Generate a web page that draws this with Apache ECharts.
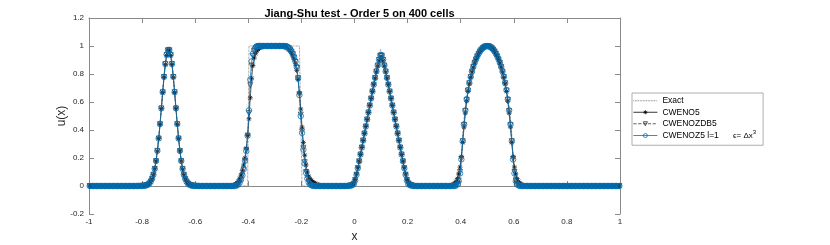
<!DOCTYPE html>
<html><head><meta charset="utf-8">
<script src="https://cdn.jsdelivr.net/npm/echarts@6/dist/echarts.min.js"></script>
<style>html,body{margin:0;padding:0;background:#fff}#c{width:830px;height:245px}</style>
</head><body><div id="c"></div>
<script>
// 400 cells on [-1, 1]; each row below = 20 cells (0.1 in x)
const xRange = [-1, 1];
const yRange = [-0.2, 1.2];
const tickStep = 0.2;
const seriesNames = ['Exact', 'CWENO5', 'CWENOZDB5', 'CWENOZ5 l=1'];

const exactU = [
0,0,0,0,0, 0,0,0,0,0, 0,0,0,0,0, 0,0,0,0,0,
0,0,0,0,0, 0,0,0,0,0, 0,0,0,0,0, 0,0,0,0,0,
0.0007,0.0014,0.0029,0.0056,0.0103,0.0183,0.0311,0.051,0.0804,0.1222,0.1787,0.2516,0.3411,0.4451,0.5591,0.6762,0.7872,0.8823,0.952,0.9889,
0.9889,0.952,0.8823,0.7872,0.6762,0.5591,0.4451,0.3411,0.2516,0.1787,0.1222,0.0804,0.051,0.0311,0.0183,0.0103,0.0056,0.0029,0.0014,0.0007,
0,0,0,0,0, 0,0,0,0,0, 0,0,0,0,0, 0,0,0,0,0,
0,0,0,0,0, 0,0,0,0,0, 0,0,0,0,0, 0,0,0,0,0,
1,1,1,1,1, 1,1,1,1,1, 1,1,1,1,1, 1,1,1,1,1,
1,1,1,1,1, 1,1,1,1,1, 1,1,1,1,1, 1,1,1,1,1,
0,0,0,0,0, 0,0,0,0,0, 0,0,0,0,0, 0,0,0,0,0,
0,0,0,0,0, 0,0,0,0,0, 0,0,0,0,0, 0,0,0,0,0,
0.025,0.075,0.125,0.175,0.225,0.275,0.325,0.375,0.425,0.475,0.525,0.575,0.625,0.675,0.725,0.775,0.825,0.875,0.925,0.975,
0.975,0.925,0.875,0.825,0.775,0.725,0.675,0.625,0.575,0.525,0.475,0.425,0.375,0.325,0.275,0.225,0.175,0.125,0.075,0.025,
0,0,0,0,0, 0,0,0,0,0, 0,0,0,0,0, 0,0,0,0,0,
0,0,0,0,0, 0,0,0,0,0, 0,0,0,0,0, 0,0,0,0,0,
0.2115,0.371,0.4803,0.5628,0.6303,0.6875,0.7368,0.7797,0.8174,0.8504,0.8794,0.9046,0.9265,0.9452,0.961,0.9739,0.9841,0.9917,0.9968,0.9993,
0.9993,0.9968,0.9917,0.9841,0.9739,0.961,0.9452,0.9265,0.9046,0.8794,0.8504,0.8174,0.7797,0.7368,0.6875,0.6303,0.5628,0.4803,0.371,0.2115,
0,0,0,0,0, 0,0,0,0,0, 0,0,0,0,0, 0,0,0,0,0,
0,0,0,0,0, 0,0,0,0,0, 0,0,0,0,0, 0,0,0,0,0,
0,0,0,0,0, 0,0,0,0,0, 0,0,0,0,0, 0,0,0,0,0,
0,0,0,0,0, 0,0,0,0,0, 0,0,0,0,0, 0,0,0,0,0
];

const cweno5U = [
0,0,0,0,0, 0,0,0,0,0, 0,0,0,0,0, 0,0,0,0,0,
0,0,0,0,0, 0,0,0,0,0, 0,0,0,0,0, 0,0,0.0002,0.0004,0.0006,
0.001,0.0018,0.0032,0.006,0.0107,0.0187,0.0315,0.0513,0.0806,0.1221,0.178,0.25,0.3382,0.4405,0.5525,0.6672,0.7755,0.867,0.932,0.965,
0.965,0.932,0.867,0.7755,0.6672,0.5525,0.4405,0.3382,0.25,0.178,0.1221,0.0806,0.0513,0.0315,0.0187,0.0107,0.006,0.0032,0.0018,0.001,
0.0006,0.0004,0.0002,0,0, 0,0,0,0,0, 0,0,0,0,0, 0,0,0,0,0,
0,0,0,0,0, 0,0,0,0.003,0.007, 0.013,0.022,0.035,0.055,0.078, 0.108,0.15,0.2,0.27,0.36,
0.48,0.63,0.77,0.86,0.915,0.945,0.965,0.977,0.985,0.99,0.994,0.996,0.998,0.999,1,1,1,1,1,1,
1,1,1,1,0.999,0.998,0.996,0.993,0.988,0.982,0.973,0.962,0.947,0.928,0.904,0.872,0.826,0.76,0.665,0.55,
0.42,0.31,0.22,0.15,0.1,0.07,0.052,0.04,0.031,0.024,0.018,0.013,0.009,0.006,0.004,0.002,0.001,0,0,0,
0,0,0,0,0, 0,0,0,0,0, 0,0,0,0,0.001, 0.002,0.004,0.007,0.012,0.022,
0.048,0.086,0.13,0.177,0.225,0.275,0.325,0.375,0.425,0.475,0.525,0.575,0.625,0.675,0.723,0.77,0.815,0.856,0.893,0.92,
0.92,0.893,0.856,0.815,0.77,0.723,0.675,0.625,0.575,0.525,0.475,0.425,0.375,0.325,0.275,0.225,0.177,0.13,0.086,0.048,
0.028,0.018,0.012,0.008,0.005, 0.003,0.002,0.001,0,0, 0,0,0,0,0, 0,0,0,0,0,
0,0,0,0,0, 0,0,0,0,0, 0.001,0.002,0.004,0.007,0.012, 0.02,0.033,0.053,0.085,0.135,
0.21,0.31,0.42,0.52,0.605,0.675,0.73,0.776,0.815,0.849,0.878,0.903,0.925,0.944,0.96,0.973,0.983,0.99,0.995,0.998,
0.998,0.995,0.99,0.983,0.973,0.96,0.944,0.925,0.903,0.878,0.849,0.815,0.776,0.73,0.675,0.605,0.52,0.42,0.31,0.21,
0.135,0.085,0.053,0.033,0.02, 0.012,0.007,0.004,0.002,0.001, 0,0,0,0,0, 0,0,0,0,0,
0,0,0,0,0, 0,0,0,0,0, 0,0,0,0,0, 0,0,0,0,0,
0,0,0,0,0, 0,0,0,0,0, 0,0,0,0,0, 0,0,0,0,0,
0,0,0,0,0, 0,0,0,0,0, 0,0,0,0,0, 0,0,0,0,0
];

const cwenozdb5U = [
0,0,0,0,0, 0,0,0,0,0, 0,0,0,0,0, 0,0,0,0,0,
0,0,0,0,0, 0,0,0,0,0, 0,0,0,0,0, 0,0,0.0002,0.0003,0.0005,
0.0009,0.0016,0.003,0.0057,0.0104,0.0184,0.0312,0.0511,0.0805,0.1222,0.1783,0.2506,0.3391,0.4418,0.5542,0.6695,0.7785,0.8705,0.936,0.969,
0.969,0.936,0.8705,0.7785,0.6695,0.5542,0.4418,0.3391,0.2506,0.1783,0.1222,0.0805,0.0511,0.0312,0.0184,0.0104,0.0057,0.003,0.0016,0.0009,
0.0005,0.0003,0.0002,0,0, 0,0,0,0,0, 0,0,0,0,0, 0,0,0,0,0,
0,0,0,0,0, 0,0,0,0,0.001, 0.003,0.007,0.014,0.026,0.045, 0.075,0.118,0.18,0.255,0.36,
0.52,0.72,0.86,0.93,0.965,0.983,0.993,0.998,1,1,1,1,1,1,1,1,1,1,1,1,
1,1,1,1,1,1,0.999,0.998,0.995,0.99,0.984,0.974,0.96,0.942,0.918,0.887,0.845,0.77,0.655,0.51,
0.39,0.27,0.17,0.1,0.057, 0.03,0.015,0.007,0.003,0.001, 0,0,0,0,0, 0,0,0,0,0,
0,0,0,0,0, 0,0,0,0,0, 0,0,0,0,0, 0.001,0.002,0.004,0.008,0.016,
0.042,0.081,0.128,0.176,0.225,0.275,0.325,0.375,0.425,0.475,0.525,0.575,0.625,0.675,0.724,0.772,0.818,0.86,0.9,0.93,
0.93,0.9,0.86,0.818,0.772,0.724,0.675,0.625,0.575,0.525,0.475,0.425,0.375,0.325,0.275,0.225,0.176,0.128,0.081,0.042,
0.018,0.009,0.005,0.002,0.001, 0,0,0,0,0, 0,0,0,0,0, 0,0,0,0,0,
0,0,0,0,0, 0,0,0,0,0, 0,0,0,0,0.001, 0.002,0.006,0.016,0.04,0.1,
0.195,0.32,0.435,0.535,0.615,0.682,0.734,0.778,0.817,0.85,0.879,0.904,0.926,0.945,0.961,0.974,0.984,0.991,0.996,0.999,
0.999,0.996,0.991,0.984,0.974,0.961,0.945,0.926,0.904,0.879,0.85,0.817,0.778,0.734,0.682,0.615,0.535,0.435,0.32,0.195,
0.1,0.04,0.016,0.006,0.002, 0.001,0,0,0,0, 0,0,0,0,0, 0,0,0,0,0,
0,0,0,0,0, 0,0,0,0,0, 0,0,0,0,0, 0,0,0,0,0,
0,0,0,0,0, 0,0,0,0,0, 0,0,0,0,0, 0,0,0,0,0,
0,0,0,0,0, 0,0,0,0,0, 0,0,0,0,0, 0,0,0,0,0
];

const cwenoz5U = [
0,0,0,0,0, 0,0,0,0,0, 0,0,0,0,0, 0,0,0,0,0,
0,0,0,0,0, 0,0,0,0,0, 0,0,0,0,0, 0,0,0.0002,0.0003,0.0005,
0.0009,0.0016,0.003,0.0057,0.0104,0.0184,0.0312,0.0511,0.0805,0.1222,0.1784,0.2508,0.3395,0.4425,0.5552,0.6708,0.7802,0.8725,0.9385,0.972,
0.972,0.9385,0.8725,0.7802,0.6708,0.5552,0.4425,0.3395,0.2508,0.1784,0.1222,0.0805,0.0511,0.0312,0.0184,0.0104,0.0057,0.003,0.0016,0.0009,
0.0005,0.0003,0.0002,0,0, 0,0,0,0,0, 0,0,0,0,0, 0,0,0,0,0,
0,0,0,0,0, 0,0,0,0,0, 0.002,0.005,0.012,0.025,0.045, 0.075,0.12,0.18,0.25,0.36,
0.54,0.76,0.89,0.945,0.975,0.99,0.997,1,1,1,1,1,1,1,1,1,1,1,1,1,
1,1,1,1,1,1,1,0.999,0.997,0.993,0.987,0.977,0.963,0.945,0.92,0.89,0.85,0.77,0.65,0.5,
0.38,0.26,0.16,0.095,0.052, 0.026,0.012,0.005,0.002,0.001, 0,0,0,0,0, 0,0,0,0,0,
0,0,0,0,0, 0,0,0,0,0, 0,0,0,0,0, 0.001,0.002,0.004,0.007,0.015,
0.04,0.08,0.127,0.176,0.225,0.275,0.325,0.375,0.425,0.475,0.525,0.575,0.625,0.675,0.724,0.772,0.819,0.862,0.903,0.935,
0.935,0.903,0.862,0.819,0.772,0.724,0.675,0.625,0.575,0.525,0.475,0.425,0.375,0.325,0.275,0.225,0.176,0.127,0.08,0.04,
0.015,0.007,0.004,0.002,0.001, 0,0,0,0,0, 0,0,0,0,0, 0,0,0,0,0,
0,0,0,0,0, 0,0,0,0,0, 0,0,0,0,0, 0.001,0.004,0.012,0.035,0.09,
0.19,0.32,0.44,0.54,0.62,0.685,0.735,0.779,0.8174,0.8504,0.8794,0.9046,0.9265,0.9452,0.961,0.9739,0.9841,0.9917,0.9968,0.9993,
0.9993,0.9968,0.9917,0.9841,0.9739,0.961,0.9452,0.9265,0.9046,0.8794,0.8504,0.8174,0.779,0.735,0.685,0.62,0.54,0.44,0.32,0.19,
0.09,0.035,0.012,0.004,0.001, 0,0,0,0,0, 0,0,0,0,0, 0,0,0,0,0,
0,0,0,0,0, 0,0,0,0,0, 0,0,0,0,0, 0,0,0,0,0,
0,0,0,0,0, 0,0,0,0,0, 0,0,0,0,0, 0,0,0,0,0,
0,0,0,0,0, 0,0,0,0,0, 0,0,0,0,0, 0,0,0,0,0
];

const FONT = '"Liberation Sans", Arial, Helvetica, sans-serif';
const AX = '#8a8a8a';
const TXT = '#262626';
const starPath = 'path://M5,0L5,10M0,5L10,5M1.5,1.5L8.5,8.5M1.5,8.5L8.5,1.5';
const HOLLOW = 'rgba(0,0,0,0)';

const chart = echarts.init(document.getElementById('c'), null, {renderer: 'canvas'});

function valueAxisX(position, showLabels, extra) {
  return Object.assign({
    type: 'value', position: position, min: xRange[0], max: xRange[1], interval: tickStep,
    axisLine: {show: true, lineStyle: {color: AX, width: 1}},
    axisTick: {show: true, inside: true, length: 5, lineStyle: {color: AX, width: 1}},
    axisLabel: {show: showLabels, color: TXT, fontSize: 8, fontFamily: FONT, margin: 4},
    splitLine: {show: false}
  }, extra || {});
}
function valueAxisY(position, showLabels, extra) {
  return Object.assign({
    type: 'value', position: position, min: yRange[0], max: yRange[1], interval: tickStep,
    axisLine: {show: true, onZero: false, lineStyle: {color: AX, width: 1}},
    axisTick: {show: true, inside: true, length: 5, lineStyle: {color: AX, width: 1}},
    axisLabel: {show: showLabels, color: TXT, fontSize: 8, fontFamily: FONT, margin: 5},
    splitLine: {show: false}
  }, extra || {});
}

const common = {type: 'line', xAxisIndex: 0, yAxisIndex: 0, showAllSymbol: true, animation: false,
  silent: true, emphasis: {disabled: true}};

chart.setOption({
  animation: false,
  backgroundColor: '#fff',
  title: {
    text: 'Jiang-Shu test - Order 5 on 400 cells', left: 354.5, top: 3, textAlign: 'center',
    textStyle: {fontSize: 11, fontWeight: 'bold', color: '#000', fontFamily: FONT}
  },
  grid: {left: 89, right: 210, top: 18, bottom: 31, containLabel: false, outerBoundsMode: 'none'},
  xAxis: [
    {type: 'category', boundaryGap: true, show: false, position: 'bottom'},
    valueAxisX('bottom', true, {name: 'x', nameLocation: 'middle', nameGap: 17, nameMoveOverlap: false,
      nameTextStyle: {fontSize: 12, color: TXT, fontFamily: FONT}}),
    valueAxisX('top', false)
  ],
  yAxis: [
    valueAxisY('left', true, {name: 'u(x)', nameLocation: 'middle', nameGap: 21, nameMoveOverlap: false,
      nameTextStyle: {fontSize: 12, color: TXT, fontFamily: FONT}}),
    valueAxisY('right', false)
  ],
  legend: {
    show: true, orient: 'vertical', left: 632, top: 93,
    data: [
      {name: seriesNames[0], itemStyle: {opacity: 0}},
      {name: seriesNames[1], itemStyle: {color: HOLLOW, borderColor: '#000', borderWidth: 0.8}},
      {name: seriesNames[2], itemStyle: {color: HOLLOW, borderColor: '#2a2a2a', borderWidth: 0.8}},
      {name: seriesNames[3], itemStyle: {color: HOLLOW, borderColor: '#0072BD', borderWidth: 0.8}}
    ],
    backgroundColor: '#fff', borderColor: '#9a9a9a', borderWidth: 0.8, borderRadius: 0,
    padding: [2, 7, 4, 1], itemGap: 0, itemWidth: 24, itemHeight: 5,
    selectedMode: false,
    lineStyle: {width: 0.8},
    textStyle: {fontSize: 8.5, color: '#000', fontFamily: FONT, lineHeight: 11.5,
      rich: {
        n: {fontSize: 8.5, fontFamily: FONT, color: '#000', lineHeight: 11.5},
        e: {fontSize: 8, fontFamily: FONT, color: '#000', lineHeight: 11.5},
        s: {fontSize: 6, fontFamily: FONT, color: '#000', padding: [0, 0, 6, 0]}
      }},
    formatter: function (name) {
      if (name === 'CWENOZ5 l=1') return '{n|CWENOZ5 l=1}      {e|ϵ= Δx}{s|3}';
      return name;
    }
  },
  series: [
    Object.assign({}, common, {
      name: seriesNames[0], data: exactU, symbol: 'none', z: 2,
      lineStyle: {type: 'dotted', width: 0.7, color: '#555'},
      itemStyle: {color: '#555'}
    }),
    Object.assign({}, common, {
      name: seriesNames[1], data: cweno5U, symbol: starPath, symbolSize: 5, z: 3,
      lineStyle: {type: 'solid', width: 0.6, color: '#000'},
      itemStyle: {color: HOLLOW, borderColor: '#000', borderWidth: 0.7}
    }),
    Object.assign({}, common, {
      name: seriesNames[2], data: cwenozdb5U, symbol: 'triangle', symbolRotate: 180, symbolSize: 5, z: 4,
      lineStyle: {type: 'dashed', width: 0.6, color: '#3a3a3a'},
      itemStyle: {color: HOLLOW, borderColor: '#2a2a2a', borderWidth: 0.7}
    }),
    Object.assign({}, common, {
      name: seriesNames[3], data: cwenoz5U, symbol: 'circle', symbolSize: 5.5, z: 5,
      lineStyle: {type: 'solid', width: 0.7, color: '#0072BD'},
      itemStyle: {color: HOLLOW, borderColor: '#0072BD', borderWidth: 0.8}
    })
  ]
});
</script>
</body></html>
